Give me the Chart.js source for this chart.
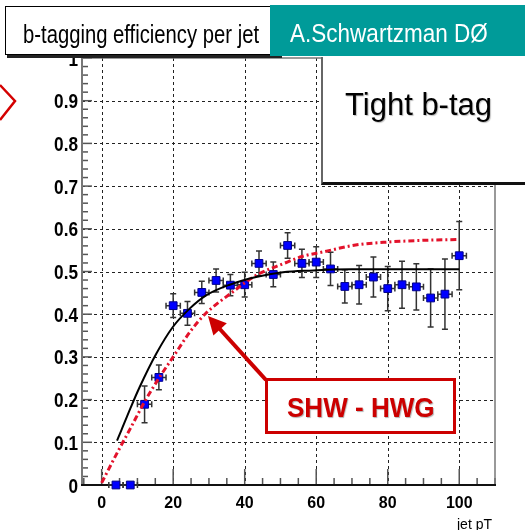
<!DOCTYPE html>
<html>
<head>
<meta charset="utf-8">
<title>b-tagging efficiency per jet</title>
<script src="https://cdn.jsdelivr.net/npm/chart.js@4/dist/chart.umd.min.js"></script>
<style>
    html, body { margin: 0; padding: 0; background: #fff; overflow: hidden; }
    #stage { position: relative; width: 525px; height: 530px; font-family: "Liberation Sans", Arial, sans-serif; }
    #stage canvas, #stage svg { position: absolute; left: 0; top: 0; }
    .box { position: absolute; box-sizing: border-box; }
    .txt { position: absolute; white-space: nowrap; line-height: 1; transform-origin: 0 0; }
</style>
</head>
<body>
<div id="stage">
    <canvas id="graficoEficiencia" width="525" height="530"></canvas>

    <svg width="525" height="530">
        <polyline points="0,85 15,101 0,120" fill="none" stroke="#d40000" stroke-width="2.5"/>
        <line x1="266" y1="380" x2="218" y2="327" stroke="#cc0000" stroke-width="4"/>
        <polygon points="208,316 213.4,335.4 226.8,323.3" fill="#cc0000"/>
    </svg>

    <!-- caixa do titulo -->
    <div class="box" style="left:5px;top:6px;width:275px;height:49px;background:#fff;border:1px solid #000;box-shadow:2px 3px 0 #222;"></div>
    <div class="txt" style="left:23px;top:22px;font-size:25px;color:#000;transform:scaleX(0.81);">b-tagging efficiency per jet</div>

    <div class="box" style="left:270px;top:5px;width:255px;height:51px;background:#009b99;"></div>
    <div class="txt" style="left:290px;top:19.5px;font-size:26.5px;color:#fff;transform:scaleX(0.85);">A.Schwartzman DØ</div>

    <!-- caixa Tight b-tag -->
    <div class="box" style="left:321px;top:57px;width:204px;height:128px;background:#fff;border-left:2px solid #666;border-bottom:3px solid #111;"></div>
    <div class="txt" style="left:345px;top:89px;font-size:31px;color:#000;text-shadow:1px 1px 1px rgba(0,0,0,0.25);">Tight b-tag</div>

    <!-- caixa SHW - HWG -->
    <div class="box" style="left:265px;top:378px;width:191px;height:56px;background:#fff;border:3px solid #cc0000;"></div>
    <div class="txt" style="left:287px;top:394px;font-size:28px;font-weight:bold;color:#cc0000;transform:scaleX(0.93);text-shadow:1px 1px 1px rgba(0,0,0,0.3);">SHW - HWG</div>
</div>

<script>
// pontos medidos (bins de jet pT)
var binsPt = [4, 8, 12, 16, 20, 24, 28, 32, 36, 40, 44, 48, 52, 56, 60, 64, 68, 72, 76, 80, 84, 88, 92, 96, 100];
var eficiencia = [0, 0, 0.189, 0.252, 0.420, 0.402, 0.451, 0.479, 0.468, 0.469, 0.519, 0.493, 0.561, 0.519, 0.522, 0.506, 0.465, 0.469, 0.487, 0.460, 0.469, 0.464, 0.438, 0.447, 0.537];
var erroEficiencia = [0, 0, 0.043, 0.029, 0.028, 0.028, 0.026, 0.027, 0.025, 0.029, 0.029, 0.029, 0.030, 0.033, 0.036, 0.039, 0.039, 0.045, 0.047, 0.052, 0.055, 0.054, 0.068, 0.082, 0.080];
var meiaLarguraBin = 2;

// curva preta (ajuste)
var ajustePt = [4.3, 5.5, 8, 10.6, 15.3, 19.9, 24.6, 29.2, 35.8, 43.2, 50.7, 58, 70, 85, 100];
var ajusteEf = [0.104, 0.128, 0.179, 0.229, 0.308, 0.370, 0.413, 0.444, 0.469, 0.487, 0.498, 0.502, 0.505, 0.505, 0.505];

// curva vermelha (SHW - HWG)
var hwgPt = [0, 4, 8, 12, 16, 20, 25, 29, 36, 43, 51, 56, 62, 71, 80, 90, 100];
var hwgEf = [0.005, 0.070, 0.132, 0.195, 0.250, 0.300, 0.362, 0.401, 0.448, 0.490, 0.519, 0.535, 0.546, 0.562, 0.569, 0.573, 0.575];

// rotulos dos eixos
var ticksX = [0, 20, 40, 60, 80, 100];
var ticksY = [0, 0.1, 0.2, 0.3, 0.4, 0.5, 0.6, 0.7, 0.8, 0.9, 1];
var rotulosY = ['0', '0.1', '0.2', '0.3', '0.4', '0.5', '0.6', '0.7', '0.8', '0.9', '1'];

var paraPontos = function (xs, ys) {
    return xs.map((v, i) => ({ x: v, y: ys[i] }));
};

var textoComprimido = function (ctx, texto, x, y, escala, alinhamento) {
    ctx.save();
    ctx.translate(x, y);
    ctx.scale(escala, 1);
    ctx.textAlign = alinhamento;
    ctx.fillText(texto, 0, 0);
    ctx.restore();
};

var eixosRoot = {
    id: 'eixosRoot',
    beforeDatasetsDraw(chart) {
        const { ctx, chartArea: a, scales: { x, y } } = chart;
        ctx.save();

        // grade tracejada
        ctx.strokeStyle = '#222';
        ctx.lineWidth = 1;
        ctx.setLineDash([3, 3]);
        ticksX.forEach(v => {
            const px = Math.round(x.getPixelForValue(v)) + 0.5;
            ctx.beginPath(); ctx.moveTo(px, a.top); ctx.lineTo(px, a.bottom); ctx.stroke();
        });
        ticksY.forEach(v => {
            if (v <= 0 || v >= 1) return;
            const py = Math.round(y.getPixelForValue(v)) + 0.5;
            ctx.beginPath(); ctx.moveTo(a.left, py); ctx.lineTo(a.right, py); ctx.stroke();
        });
        ctx.setLineDash([]);

        // marcas dos eixos
        ctx.strokeStyle = '#555';
        ctx.lineWidth = 1.5;
        for (let i = 0; i <= 50; i++) {
            const py = y.getPixelForValue(i * 0.02);
            const len = i % 5 == 0 ? 10 : 6;
            ctx.beginPath(); ctx.moveTo(a.left, py); ctx.lineTo(a.left + len, py); ctx.stroke();
        }
        for (let v = -5; v <= 110; v += 5) {
            const px = x.getPixelForValue(v);
            const len = v % 20 == 0 ? 16 : 7;
            ctx.beginPath(); ctx.moveTo(px, a.bottom); ctx.lineTo(px, a.bottom - len); ctx.stroke();
        }

        // moldura
        ctx.strokeStyle = '#777';
        ctx.lineWidth = 2;
        ctx.beginPath(); ctx.moveTo(a.left, a.top); ctx.lineTo(a.left, a.bottom); ctx.stroke();
        ctx.lineWidth = 1.5;
        ctx.beginPath(); ctx.moveTo(a.right, a.top); ctx.lineTo(a.right, a.bottom); ctx.stroke();
        ctx.beginPath(); ctx.moveTo(a.left, a.top); ctx.lineTo(a.right, a.top); ctx.stroke();
        ctx.strokeStyle = '#111';
        ctx.lineWidth = 2;
        ctx.beginPath(); ctx.moveTo(a.left - 1, a.bottom); ctx.lineTo(a.right + 1, a.bottom); ctx.stroke();

        ctx.restore();
    },
    beforeDatasetDraw(chart, args) {
        if (args.index != 2) return;
        const { ctx, scales: { x, y } } = chart;
        ctx.save();
        ctx.strokeStyle = '#333';
        ctx.lineWidth = 1.5;
        binsPt.forEach((pt, i) => {
            const px = x.getPixelForValue(pt);
            const py = y.getPixelForValue(eficiencia[i]);
            const x1 = x.getPixelForValue(pt - meiaLarguraBin);
            const x2 = x.getPixelForValue(pt + meiaLarguraBin);
            ctx.beginPath();
            ctx.moveTo(x1, py); ctx.lineTo(x2, py);
            ctx.moveTo(x1, py - 3); ctx.lineTo(x1, py + 3);
            ctx.moveTo(x2, py - 3); ctx.lineTo(x2, py + 3);
            if (erroEficiencia[i] > 0) {
                const y1 = y.getPixelForValue(eficiencia[i] - erroEficiencia[i]);
                const y2 = y.getPixelForValue(eficiencia[i] + erroEficiencia[i]);
                ctx.moveTo(px, y1); ctx.lineTo(px, y2);
                ctx.moveTo(px - 3, y1); ctx.lineTo(px + 3, y1);
                ctx.moveTo(px - 3, y2); ctx.lineTo(px + 3, y2);
            }
            ctx.stroke();
        });
        ctx.restore();
    },
    afterDraw(chart) {
        const { ctx, chartArea: a, scales: { x, y } } = chart;
        ctx.save();
        ctx.fillStyle = '#000';
        ctx.textBaseline = 'middle';
        ctx.font = 'bold 20px "Liberation Sans", Arial, sans-serif';
        ticksY.forEach((v, i) => {
            textoComprimido(ctx, rotulosY[i], a.left - 4, y.getPixelForValue(v) + 2, 0.86, 'right');
        });
        ctx.font = 'bold 17px "Liberation Sans", Arial, sans-serif';
        ticksX.forEach(v => {
            textoComprimido(ctx, String(v), x.getPixelForValue(v), a.bottom + 18, 0.94, 'center');
        });
        ctx.textBaseline = 'alphabetic';
        ctx.font = '14px "Liberation Sans", Arial, sans-serif';
        textoComprimido(ctx, 'jet pT', 492, 529, 1, 'right');
        ctx.restore();
    }
};

var ctx = document.getElementById('graficoEficiencia').getContext('2d');
var graficoEficiencia = new Chart(ctx, {
    type: 'scatter',
    data: {
        datasets: [{
            type: 'line',
            label: 'ajuste',
            data: paraPontos(ajustePt, ajusteEf),
            borderColor: '#000',
            borderWidth: 2,
            pointRadius: 0,
            fill: false,
            cubicInterpolationMode: 'monotone'
        }, {
            type: 'line',
            label: 'SHW - HWG',
            data: paraPontos(hwgPt, hwgEf),
            borderColor: '#e3122b',
            borderWidth: 3,
            borderDash: [6, 3, 2, 3],
            pointRadius: 0,
            fill: false,
            cubicInterpolationMode: 'monotone'
        }, {
            type: 'scatter',
            label: 'dados',
            data: paraPontos(binsPt, eficiencia),
            pointStyle: 'rect',
            pointRadius: 5.5,
            backgroundColor: '#0000ff',
            borderColor: '#00008b',
            borderWidth: 1,
            clip: false
        }]
    },
    options: {
        responsive: false,
        animation: false,
        layout: { padding: { left: 82, top: 58, right: 30, bottom: 45 } },
        plugins: {
            legend: { display: false },
            tooltip: { enabled: false }
        },
        scales: {
            x: { type: 'linear', min: -5.5, max: 110, display: false },
            y: { type: 'linear', min: 0, max: 1, display: false }
        }
    },
    plugins: [eixosRoot]
});
</script>
</body>
</html>
